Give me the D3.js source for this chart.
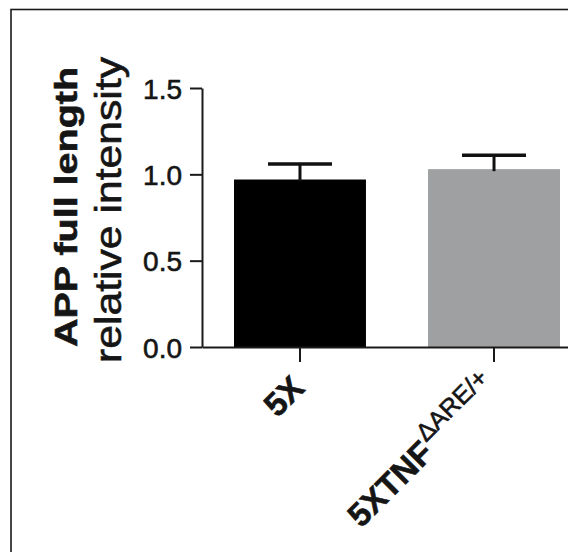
<!DOCTYPE html>
<html>
<head>
    <meta charset="utf-8">
    <title>APP full length relative intensity</title>
    <script src="https://d3js.org/d3.v7.min.js"></script>
    <style>
        body {
            margin: 0;
            background: #fff;
        }
        svg {
            display: block;
            font-family: "Liberation Sans", Arial, Helvetica, sans-serif;
        }
        .axis path, .axis line {
            stroke: #1a1a1a;
            stroke-width: 2px;
        }
        .axis text, .lbl {
            fill: #151515;
            stroke: #151515;
            stroke-width: 0.6px;
        }
    </style>
</head>
<body>
    <div id="chart"></div>

    <script>
        // values
        const groups = ["5X", "5XTNF"];
        const superscripts = ["", "\u0394ARE/+"];
        const means = [0.97, 1.03];
        const errors = [0.09, 0.08];
        const barColors = ["#000000", "#9fa0a1"];
        const yTicks = [0, 0.5, 1.0, 1.5];
        const yTitle = ["APP full length", "relative intensity"];

        const width = 568, height = 552;

        const data = groups.map((g, i) => ({
            group: g,
            sup: superscripts[i],
            mean: means[i],
            err: errors[i],
            color: barColors[i]
        }));

        const svg = d3.select("#chart").append("svg")
            .attr("width", width)
            .attr("height", height);

        // frame round the figure
        svg.append("rect")
            .attr("x", 11)
            .attr("y", 9.5)
            .attr("width", width + 20)
            .attr("height", height + 20)
            .attr("fill", "none")
            .attr("stroke", "#1a1a1a")
            .attr("stroke-width", 1.6);

        var xScale = d3.scaleBand()
            .domain(groups)
            .range([202, 592])
            .paddingInner(0.32)
            .paddingOuter(0.165);

        var yScale = d3.scaleLinear()
            .domain([0, 1.5])
            .range([347, 88]);

        // bars
        svg.selectAll(".bar")
            .data(data)
            .enter().append("rect")
            .attr("class", "bar")
            .attr("x", d => xScale(d.group))
            .attr("y", d => yScale(d.mean))
            .attr("width", xScale.bandwidth())
            .attr("height", d => yScale(0) - yScale(d.mean))
            .attr("fill", d => d.color);

        // error bars (upper only)
        const capHalf = 32;
        const err = svg.append("g");
        err.selectAll(".err-v")
            .data(data)
            .enter().append("line")
            .attr("x1", d => xScale(d.group) + xScale.bandwidth() / 2)
            .attr("x2", d => xScale(d.group) + xScale.bandwidth() / 2)
            .attr("y1", d => yScale(d.mean) + 2)
            .attr("y2", d => yScale(d.mean + d.err))
            .attr("stroke", "#111")
            .attr("stroke-width", 3);
        err.selectAll(".err-cap")
            .data(data)
            .enter().append("line")
            .attr("x1", d => xScale(d.group) + xScale.bandwidth() / 2 - capHalf)
            .attr("x2", d => xScale(d.group) + xScale.bandwidth() / 2 + capHalf)
            .attr("y1", d => yScale(d.mean + d.err))
            .attr("y2", d => yScale(d.mean + d.err))
            .attr("stroke", "#111")
            .attr("stroke-width", 3.5);

        // y axis
        svg.append("g")
            .attr("class", "axis")
            .attr("transform", "translate(202,0)")
            .call(d3.axisLeft(yScale).tickValues(yTicks).tickFormat(d3.format(".1f")).tickSize(12).tickSizeOuter(0).tickPadding(8))
            .selectAll("text")
            .style("font-size", "28px")
            .attr("dy", "0.36em");

        // x axis
        svg.append("g")
            .attr("class", "axis")
            .attr("transform", "translate(0," + yScale(0) + ")")
            .call(d3.axisBottom(xScale).tickSize(15).tickSizeOuter(0).tickFormat(""));

        // rotated group labels
        svg.selectAll(".xlabel")
            .data(data)
            .enter().append("text")
            .attr("class", "xlabel lbl")
            .attr("text-anchor", "end")
            .attr("transform", d => {
                const cx = xScale(d.group) + xScale.bandwidth() / 2;
                return "translate(" + (cx + 6) + "," + (yScale(0) + 43) + ") rotate(-45)";
            })
            .each(function(d) {
                const t = d3.select(this);
                t.append("tspan")
                    .style("font-size", "33px")
                    .style("font-weight", "bold")
                    .text(d.group);
                if (d.sup) {
                    t.append("tspan")
                        .attr("dx", "2")
                        .attr("dy", "-15")
                        .style("font-size", "25px")
                        .text(d.sup);
                }
            });

        // y axis title, two lines
        svg.append("text")
            .attr("class", "lbl")
            .attr("transform", "translate(77,207) rotate(-90)")
            .attr("text-anchor", "middle")
            .attr("textLength", 280)
            .attr("lengthAdjust", "spacingAndGlyphs")
            .style("font-size", "32px")
            .style("font-weight", "bold")
            .text(yTitle[0]);

        svg.append("text")
            .attr("class", "lbl")
            .attr("transform", "translate(121,210) rotate(-90)")
            .attr("text-anchor", "middle")
            .attr("textLength", 306)
            .attr("lengthAdjust", "spacingAndGlyphs")
            .style("font-size", "36px")
            .text(yTitle[1]);
    </script>
</body>
</html>
